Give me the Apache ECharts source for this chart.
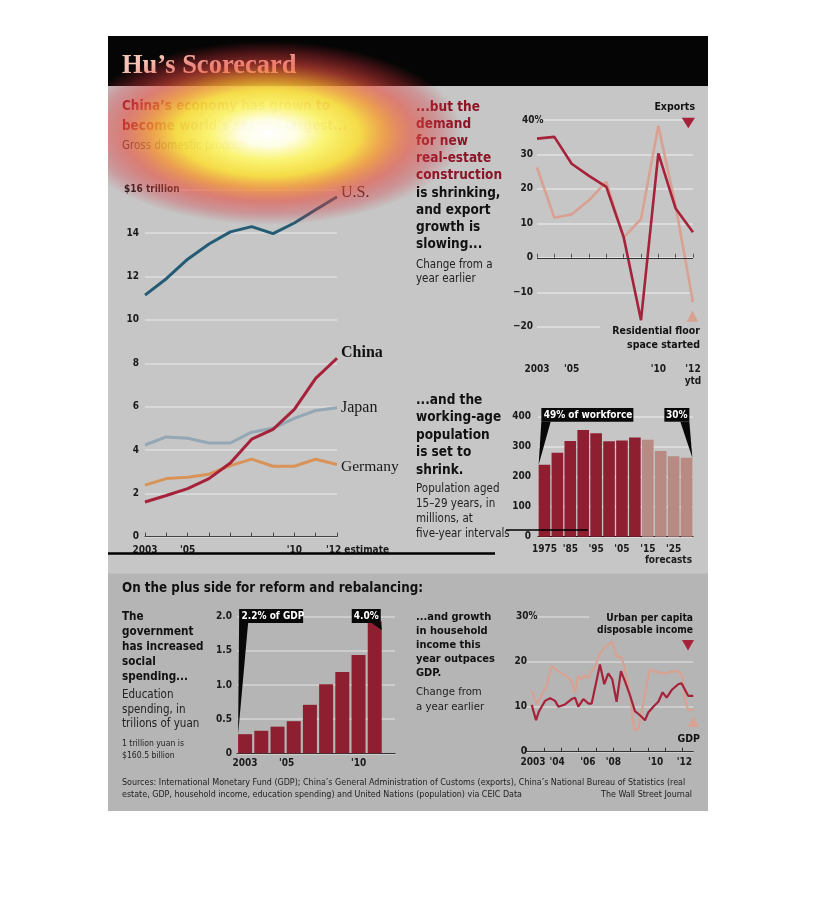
<!DOCTYPE html>
<html>
<head>
<meta charset="utf-8">
<script src="https://cdn.jsdelivr.net/npm/echarts@6.0.0/dist/echarts.min.js"></script>
<style>
html,body{margin:0;padding:0;background:#ffffff;}
#chart{width:816px;height:906px;}
</style>
</head>
<body>
<div id="chart"></div>
<script>
// ---------------- DATA ----------------
const gdpYears = ['2003','2004','2005','2006','2007','2008','2009','2010','2011','2012'];
const gdpUS      = [11.14, 11.9, 12.8, 13.5, 14.06, 14.3, 13.98, 14.47, 15.08, 15.68];
const gdpChina   = [1.6, 1.9, 2.22, 2.68, 3.4, 4.5, 4.95, 5.87, 7.3, 8.23];
const gdpJapan   = [4.23, 4.6, 4.54, 4.32, 4.32, 4.82, 5.0, 5.46, 5.82, 5.95];
const gdpGermany = [2.38, 2.68, 2.74, 2.88, 3.28, 3.58, 3.25, 3.25, 3.57, 3.33];
const gdpTickLabels = {'2003':'2003','2005':"'05",'2010':"'10",'2012':"'12 estimate"};

const tradeYears = ['2003','2004','2005','2006','2007','2008','2009','2010','2011','2012'];
const exportsGrowth    = [34.6, 35.1, 27.3, 23.8, 20.6, 6.0, -18.1, 30.3, 14.3, 7.4];
const floorSpaceGrowth = [26.2, 11.6, 12.6, 16.7, 22.1, 5.9, 11.2, 38.3, 15.0, -12.9];
const tradeTickLabels = {'2003':'2003','2005':"'05",'2010':"'10",'2012':"'12\nytd"};

const popYears  = ['1975','1980','1985','1990','1995','2000','2005','2010','2015','2020','2025','2030'];
const popValues = [240, 280, 319, 356, 345, 318, 321, 331, 323, 286, 268, 263];
const popForecastFrom = '2015';
const popTickLabels = {'1975':'1975','1985':"'85",'1995':"'95",'2005':"'05",'2015':"'15",'2025':"'25"};

const eduYears  = [2003, 2004, 2005, 2006, 2007, 2008, 2009, 2010, 2011];
const eduValues = [0.28, 0.33, 0.39, 0.47, 0.71, 1.01, 1.19, 1.44, 1.93];
const eduTickLabels = {2003:'2003', 2005:"'05", 2010:"'10"};

const incomeGrowth = [
  [2003.29,10.4],[2003.54,7.0],[2003.71,9.0],[2004.06,11.3],[2004.35,11.9],[2004.64,11.3],
  [2004.83,10.0],[2005.21,10.5],[2005.60,11.7],[2005.79,12.0],[2005.98,10.0],[2006.27,11.7],
  [2006.56,10.7],[2006.75,10.7],[2006.98,14.8],[2007.23,19.4],[2007.48,15.0],[2007.71,17.4],
  [2007.94,16.1],[2008.19,11.1],[2008.44,17.9],[2008.67,15.7],[2008.96,12.6],[2009.25,9.0],
  [2009.54,8.1],[2009.83,7.0],[2010.02,8.7],[2010.31,10.0],[2010.60,11.1],[2010.85,13.2],
  [2011.08,12.0],[2011.37,13.7],[2011.75,15.0],[2011.94,15.2],[2012.33,12.4],[2012.62,12.4]
];
const gdpGrowth = [
  [2003.29,13.5],[2003.58,10.5],[2003.87,12.6],[2004.16,14.8],[2004.44,19.1],[2004.73,18.1],
  [2005.02,17.4],[2005.31,16.7],[2005.60,15.6],[2005.79,13.0],[2005.98,16.9],[2006.17,16.1],
  [2006.37,17.0],[2006.56,16.3],[2006.75,17.8],[2006.94,18.9],[2007.14,21.1],[2007.52,23.3],
  [2007.94,24.4],[2008.19,21.3],[2008.48,20.9],[2008.67,18.5],[2008.96,12.6],[2009.21,4.8],
  [2009.44,5.0],[2009.64,8.9],[2009.92,14.8],[2010.12,18.4],[2010.40,17.8],[2010.98,17.4],
  [2011.37,17.8],[2011.75,17.9],[2011.98,17.0],[2012.14,11.5],[2012.33,9.3],[2012.62,9.3]
];
const incomeTickLabels = {2003:'2003', 2004:"'04", 2006:"'06", 2008:"'08", 2010:"'10", 2012:"'12"};

// ---------------- STYLE ----------------
const SANS = "'Liberation Sans Narrow','DejaVu Sans Condensed',Lato,'Liberation Sans',sans-serif";
const SERIF = "'Liberation Serif','DejaVu Serif',serif";
const RED = '#a6223a', SALMON = '#d9a192', BAR = '#8e1f30', BAR_FC = '#b98a84';
const TOP_BG = '#c6c6c6', BOT_BG = '#b5b5b5';
const TICK = {fontFamily: SANS, fontSize: 10, fontWeight: 'bold', color: '#1a1a1a'};
// horizontal nudges (px) of hand-placed tick labels in the original
const incomeLabelNudge = {2003: 6.3, 2004: 13, 2006: 9.3, 2008: 0, 2010: 7.8, 2012: 1.7};
const eduLabelNudge = {2003: 0, 2005: 9, 2010: 0};

const chart = echarts.init(document.getElementById('chart'), null, {renderer: 'canvas', width: 816, height: 906});

// ---------------- GRAPHICS (text / panels) ----------------
const els = [];
function text(x, y, str, font, fill, style) {
  els.push({type: 'text', x: x, y: y, z: 100, silent: true,
    style: Object.assign({text: str, font: font, fill: fill, align: 'left', verticalAlign: 'middle'}, style || {})});
}
function poly(points, fill) {
  els.push({type: 'polygon', z: 100, silent: true, shape: {points: points}, style: {fill: fill}});
}
els.push({type: 'rect', z: -100, silent: true, shape: {x: 108, y: 36, width: 600, height: 538}, style: {fill: TOP_BG}});
els.push({type: 'rect', z: -100, silent: true, shape: {x: 108, y: 573.5, width: 600, height: 237.5}, style: {fill: BOT_BG}});
els.push({type: 'rect', z: -99, silent: true, shape: {x: 108, y: 36, width: 600, height: 50}, style: {fill: '#050505'}});

text(122, 66, 'Hu\u2019s Scorecard', 'bold 26.5px ' + SERIF, '#f6c4b4');
text(122, 97, 'China\u2019s economy has grown to\nbecome world\u2019s second largest...', 'bold 13.4px ' + SANS, '#8b1426',
  {verticalAlign: 'top', lineHeight: 19.5});
text(122, 146, 'Gross domestic product', '11.5px ' + SANS, '#2a2a2a');

text(416, 98.7, '{r|...but the}\n{r|demand}\n{r|for new}\n{r|real-estate}\n{r|construction}\n{k|is shrinking,}\n{k|and export}\n{k|growth is}\n{k|slowing...}',
  'bold 13.5px ' + SANS, '#111', {verticalAlign: 'top', rich: {
    r: {fill: '#8b1426', font: 'bold 13.5px ' + SANS, lineHeight: 17.15},
    k: {fill: '#111111', font: 'bold 13.5px ' + SANS, lineHeight: 17.15}}});
text(416, 257.5, 'Change from a\nyear earlier', '11.5px ' + SANS, '#222', {verticalAlign: 'top', lineHeight: 14.5});

text(695, 107.7, 'Exports', 'bold 10.5px ' + SANS, '#111', {align: 'right'});
poly([[681.7, 117.7], [695, 117.7], [688.3, 128.3]], RED);
text(700, 325, 'Residential floor\nspace started', 'bold 10.5px ' + SANS, '#111',
  {align: 'right', verticalAlign: 'top', lineHeight: 13.3, backgroundColor: TOP_BG, padding: [0, 0, 0, 12]});
poly([[686.7, 321.7], [698.3, 321.7], [692.5, 310.5]], SALMON);

text(416, 391.25, '...and the\nworking-age\npopulation\nis set to\nshrink.', 'bold 13.5px ' + SANS, '#111',
  {verticalAlign: 'top', lineHeight: 17.5});
text(416, 481.5, 'Population aged\n15\u201329 years, in\nmillions, at\nfive-year intervals', '11.5px ' + SANS, '#222',
  {verticalAlign: 'top', lineHeight: 15});
text(692, 560.7, 'forecasts', 'bold 10px ' + SANS, '#1a1a1a', {align: 'right'});

text(122, 589, 'On the plus side for reform and rebalancing:', 'bold 13.3px ' + SANS, '#111');
text(122, 609.2, 'The\ngovernment\nhas increased\nsocial\nspending...', 'bold 11.6px ' + SANS, '#111',
  {verticalAlign: 'top', lineHeight: 15});
text(122, 687.6, 'Education\nspending, in\ntrilions of yuan', '11.5px ' + SANS, '#222',
  {verticalAlign: 'top', lineHeight: 14.7});
text(122, 738, '1 trillion yuan is\n$160.5 billion', '8.6px ' + SANS, '#222',
  {verticalAlign: 'top', lineHeight: 12});

text(416, 609.7, '...and growth\nin household\nincome this\nyear outpaces\nGDP.', 'bold 11px ' + SANS, '#111',
  {verticalAlign: 'top', lineHeight: 14});
text(416, 684.2, 'Change from\na year earlier', '11.3px ' + SANS, '#222', {verticalAlign: 'top', lineHeight: 15});
text(693, 612, 'Urban per capita\ndisposable income', 'bold 10.2px ' + SANS, '#111',
  {align: 'right', verticalAlign: 'top', lineHeight: 12.5, backgroundColor: BOT_BG, padding: [0, 0, 0, 8]});
poly([[682, 640], [694, 640], [688, 650.5]], RED);
text(700, 739, 'GDP', 'bold 10.5px ' + SANS, '#111', {align: 'right'});
poly([[687.7, 726.7], [699, 726.7], [693.3, 716.7]], SALMON);

text(122, 776.5, 'Sources: International Monetary Fund (GDP); China\u2019s General Administration of Customs (exports), China\u2019s National Bureau of Statistics (real\nestate, GDP, household income, education spending) and United Nations (population) via CEIC Data',
  '8.9px ' + SANS, '#222', {verticalAlign: 'top', lineHeight: 12.3});
text(692, 795, 'The Wall Street Journal', '8.9px ' + SANS, '#222', {align: 'right'});

// glow overlay + white masks outside the panel
els.push({type: 'circle', z: 150, silent: true, x: 268, y: 133, scaleX: 1.95, scaleY: 0.92,
  shape: {cx: 0, cy: 0, r: 100},
  style: {fill: {type: 'radial', x: 0.5, y: 0.5, r: 0.5, colorStops: [
    {offset: 0, color: 'rgba(255,255,255,1)'},
    {offset: 0.14, color: 'rgba(255,255,232,0.98)'},
    {offset: 0.3, color: 'rgba(253,246,110,0.95)'},
    {offset: 0.47, color: 'rgba(250,222,58,0.9)'},
    {offset: 0.6, color: 'rgba(245,150,50,0.8)'},
    {offset: 0.74, color: 'rgba(232,78,62,0.6)'},
    {offset: 0.88, color: 'rgba(215,50,58,0.32)'},
    {offset: 1, color: 'rgba(200,40,50,0)'}]}}});
els.push({type: 'rect', z: 160, silent: true, shape: {x: 0, y: 0, width: 816, height: 36}, style: {fill: '#ffffff'}});
els.push({type: 'rect', z: 160, silent: true, shape: {x: 0, y: 0, width: 108, height: 906}, style: {fill: '#ffffff'}});
els.push({type: 'rect', z: 160, silent: true, shape: {x: 708, y: 0, width: 108, height: 906}, style: {fill: '#ffffff'}});
// stray marker strokes present in the reference
els.push({type: 'line', z: 170, silent: true, shape: {x1: 108, y1: 553.5, x2: 495, y2: 553.5}, style: {stroke: '#000', lineWidth: 2.5}});
els.push({type: 'line', z: 170, silent: true, shape: {x1: 506, y1: 530, x2: 588, y2: 530}, style: {stroke: '#000', lineWidth: 1.5}});
els.forEach(function (e, i) { e.id = 'g' + i; });

// ---------------- CHART OPTION ----------------
function gridLine(c) { return {show: true, lineStyle: {color: c, width: 1.5}}; }
function nudgeRich(map) {
  const r = {};
  Object.keys(map).forEach(function (k) {
    r['n' + k] = Object.assign({}, TICK, {padding: [0, 0, 0, 2 * map[k]]});
  });
  return r;
}
function numRich(w, pctPad) {
  return {n: Object.assign({}, TICK, {width: w, align: 'right'}),
          q: Object.assign({}, TICK, {padding: [0, 0, 0, pctPad]}),
          t: Object.assign({}, TICK)};
}

const option = {
  backgroundColor: '#ffffff',
  animation: false,
  grid: [
    {left: 145, top: 189.8, width: 192, height: 346.9},
    {left: 537, top: 120, width: 156, height: 206.7},
    {left: 538, top: 416.7, width: 155, height: 120},
    {left: 237, top: 616.7, width: 158, height: 136.6},
    {left: 526.7, top: 616.7, width: 166.6, height: 135}
  ],
  xAxis: [
    {gridIndex: 0, type: 'category', data: gdpYears, boundaryGap: false,
      axisLine: {lineStyle: {color: '#444', width: 1}},
      axisTick: {inside: true, length: 4, lineStyle: {color: '#444'}},
      axisLabel: Object.assign({}, TICK, {interval: 0, margin: 9,
        formatter: function (v) {
          const s = gdpTickLabels[v] || '';
          return v === gdpYears[gdpYears.length - 1] ? '{e|' + s + '}' : s;
        },
        rich: {e: Object.assign({}, TICK, {padding: [0, 0, 0, 41]})}})},
    {gridIndex: 1, type: 'category', data: tradeYears, boundaryGap: false, offset: 31,
      axisLine: {lineStyle: {color: '#e6e6e6', width: 1.5}},
      axisTick: {inside: true, length: 4, lineStyle: {color: '#555'}},
      axisLabel: Object.assign({}, TICK, {interval: 0, margin: 6, lineHeight: 12,
        formatter: function (v) { return tradeTickLabels[v] || ''; }})},
    {gridIndex: 2, type: 'category', data: popYears,
      axisLine: {lineStyle: {color: '#111', width: 1}},
      axisTick: {show: false},
      axisLabel: Object.assign({}, TICK, {interval: 0, margin: 8,
        formatter: function (v) { return popTickLabels[v] || ''; }})},
    {gridIndex: 3, type: 'value', min: 2002.5, max: 2012.25, interval: 0.5,
      splitLine: {show: false},
      axisLine: {show: true, onZero: false, lineStyle: {color: '#333', width: 1}},
      axisTick: {show: false},
      axisLabel: Object.assign({}, TICK, {margin: 5, showMinLabel: false, showMaxLabel: false,
        formatter: function (v) { return eduTickLabels[v] ? '{n' + v + '|' + eduTickLabels[v] + '}' : ''; },
        rich: nudgeRich(eduLabelNudge)})},
    {gridIndex: 4, type: 'value', min: 2003, max: 2012.62, interval: 1,
      splitLine: {show: false},
      axisLine: {show: true, onZero: false, lineStyle: {color: '#333', width: 1}},
      axisTick: {show: true, inside: true, length: 4, lineStyle: {color: '#333'}},
      axisLabel: Object.assign({}, TICK, {margin: 6, showMinLabel: true, showMaxLabel: false,
        formatter: function (v) { return incomeTickLabels[v] ? '{n' + v + '|' + incomeTickLabels[v] + '}' : ''; },
        rich: nudgeRich(incomeLabelNudge)})}
  ],
  yAxis: [
    {gridIndex: 0, type: 'value', min: 0, max: 16, interval: 2,
      splitLine: gridLine('#dedede'), axisLine: {show: false}, axisTick: {show: false},
      axisLabel: Object.assign({}, TICK, {align: 'left', margin: 21,
        formatter: function (v) { return v === 16 ? '{t|$16 trillion}' : '{n|' + v + '}'; },
        rich: numRich(15, 0)})},
    {gridIndex: 1, type: 'value', min: -20, max: 40, interval: 10,
      splitLine: gridLine('#e2e2e2'), axisLine: {show: false}, axisTick: {show: false},
      axisLabel: Object.assign({}, TICK, {align: 'left', margin: 22,
        formatter: function (v) { return v === 40 ? '{q|40%}' : '{n|' + (v < 0 ? '\u2212' + (-v) : v) + '}'; },
        rich: numRich(18, 7)})},
    {gridIndex: 2, type: 'value', min: 0, max: 400, interval: 100,
      splitLine: gridLine('#e2e2e2'), axisLine: {show: false}, axisTick: {show: false},
      axisLabel: Object.assign({}, TICK, {margin: 7})},
    {gridIndex: 3, type: 'value', min: 0, max: 2, interval: 0.5,
      splitLine: gridLine('#d6d6d6'), axisLine: {show: false}, axisTick: {show: false},
      axisLabel: Object.assign({}, TICK, {margin: 5,
        formatter: function (v) { return v === 0 ? '0' : v.toFixed(1); }})},
    {gridIndex: 4, type: 'value', min: 0, max: 30, interval: 10,
      splitLine: gridLine('#d6d6d6'), axisLine: {show: false}, axisTick: {show: false},
      axisLabel: Object.assign({}, TICK, {align: 'left', margin: 13.7,
        formatter: function (v) { return v === 30 ? '{q|30%}' : '{n|' + v + '}'; },
        rich: numRich(14, 3)})}
  ],
  series: [
    {name: 'U.S.', type: 'line', xAxisIndex: 0, yAxisIndex: 0, data: gdpUS, symbol: 'none', z: 3,
      lineStyle: {color: '#245c75', width: 3},
      endLabel: {show: true, formatter: 'U.S.', distance: 4, offset: [0, -4], fontFamily: SERIF, fontSize: 16, color: '#1a1a1a'}},
    {name: 'Germany', type: 'line', xAxisIndex: 0, yAxisIndex: 0, data: gdpGermany, symbol: 'none', z: 3,
      lineStyle: {color: '#d99358', width: 3},
      endLabel: {show: true, formatter: 'Germany', distance: 4, offset: [0, 2], fontFamily: SERIF, fontSize: 15.5, color: '#1a1a1a'}},
    {name: 'Japan', type: 'line', xAxisIndex: 0, yAxisIndex: 0, data: gdpJapan, symbol: 'none', z: 4,
      lineStyle: {color: '#94a7b5', width: 3},
      endLabel: {show: true, formatter: 'Japan', distance: 4, offset: [0, 0], fontFamily: SERIF, fontSize: 16, color: '#1a1a1a'}},
    {name: 'China', type: 'line', xAxisIndex: 0, yAxisIndex: 0, data: gdpChina, symbol: 'none', z: 5,
      lineStyle: {color: RED, width: 3},
      endLabel: {show: true, formatter: 'China', distance: 4, offset: [0, -5], fontFamily: SERIF, fontSize: 16, fontWeight: 'bold', color: '#111'}},

    {name: 'Residential floor space started', type: 'line', xAxisIndex: 1, yAxisIndex: 1, data: floorSpaceGrowth,
      symbol: 'none', z: 3, lineStyle: {color: SALMON, width: 2.6},
      markLine: {silent: true, symbol: 'none', label: {show: false}, lineStyle: {color: '#333', width: 1, type: 'solid'},
        data: [{yAxis: 0}]}},
    {name: 'Exports', type: 'line', xAxisIndex: 1, yAxisIndex: 1, data: exportsGrowth,
      symbol: 'none', z: 4, lineStyle: {color: RED, width: 2.6}},

    {name: 'Population aged 15-29', type: 'bar', xAxisIndex: 2, yAxisIndex: 2, barCategoryGap: '10%',
      data: popValues.map(function (v, i) {
        return {value: v, itemStyle: {color: popYears[i] >= popForecastFrom ? BAR_FC : BAR}};
      })},

    {name: 'Education spending', type: 'bar', xAxisIndex: 3, yAxisIndex: 3, barWidth: 14,
      itemStyle: {color: BAR},
      data: eduYears.map(function (y, i) { return [y, eduValues[i]]; })},

    {name: 'GDP', type: 'line', xAxisIndex: 4, yAxisIndex: 4, data: gdpGrowth,
      symbol: 'none', z: 3, lineStyle: {color: SALMON, width: 2.2}},
    {name: 'Urban per capita disposable income', type: 'line', xAxisIndex: 4, yAxisIndex: 4, data: incomeGrowth,
      symbol: 'none', z: 4, lineStyle: {color: RED, width: 2.2}}
  ],
  graphic: {elements: els}
};

chart.setOption(option);

// ---------------- CALLOUTS (anchored via the chart's own scales) ----------------
const callouts = [];
const CALL_FONT = 'bold 10px ' + SANS;
const popBarW = 155 / popYears.length * 0.9;
const p0 = chart.convertToPixel({xAxisIndex: 2, yAxisIndex: 2}, [0, popValues[0]]);
const pL = chart.convertToPixel({xAxisIndex: 2, yAxisIndex: 2}, [popYears.length - 1, popValues[popValues.length - 1]]);
const pTop = chart.convertToPixel({yAxisIndex: 2}, 400);
const p0Left = p0[0] - popBarW / 2, pLRight = pL[0] + popBarW / 2;
const boxT = pTop - 8.7, boxH = 13.7;
callouts.push({type: 'rect', shape: {x: p0Left + 2.7, y: boxT, width: 92, height: boxH}, style: {fill: '#080808'}});
callouts.push({type: 'polygon', shape: {points: [[p0Left + 2.7, boxT + boxH], [p0Left + 12, boxT + boxH], [p0Left, p0[1]]]}, style: {fill: '#080808'}});
callouts.push({type: 'text', x: p0Left + 5, y: boxT + boxH / 2 + 0.5, style: {text: '49% of workforce', font: CALL_FONT, fill: '#fff', align: 'left', verticalAlign: 'middle'}});
callouts.push({type: 'rect', shape: {x: pLRight - 28, y: boxT, width: 25, height: boxH}, style: {fill: '#080808'}});
callouts.push({type: 'polygon', shape: {points: [[pLRight - 12, boxT + boxH], [pLRight - 3, boxT + boxH], [pLRight, pL[1]]]}, style: {fill: '#080808'}});
callouts.push({type: 'text', x: pLRight - 15.5, y: boxT + boxH / 2 + 0.5, style: {text: '30%', font: CALL_FONT, fill: '#fff', align: 'center', verticalAlign: 'middle'}});

const e0 = chart.convertToPixel({xAxisIndex: 3, yAxisIndex: 3}, [eduYears[0], eduValues[0]]);
const eL = chart.convertToPixel({xAxisIndex: 3, yAxisIndex: 3}, [eduYears[eduYears.length - 1], eduValues[eduValues.length - 1]]);
const eTop = chart.convertToPixel({yAxisIndex: 3}, 2);
const e0Left = e0[0] - 7, eLRight = eL[0] + 7;
const eBoxT = eTop - 7.7, eBoxH = 14;
callouts.push({type: 'rect', shape: {x: e0Left + 1, y: eBoxT, width: 64, height: eBoxH}, style: {fill: '#080808'}});
callouts.push({type: 'polygon', shape: {points: [[e0Left + 1, eBoxT + eBoxH], [e0Left + 10, eBoxT + eBoxH], [e0Left, e0[1]]]}, style: {fill: '#080808'}});
callouts.push({type: 'text', x: e0Left + 3.5, y: eBoxT + eBoxH / 2 + 0.5, style: {text: '2.2% of GDP', font: CALL_FONT, fill: '#fff', align: 'left', verticalAlign: 'middle'}});
callouts.push({type: 'rect', shape: {x: eLRight - 30, y: eBoxT, width: 29, height: eBoxH}, style: {fill: '#080808'}});
callouts.push({type: 'polygon', shape: {points: [[eLRight - 10, eBoxT + eBoxH], [eLRight - 1, eBoxT + eBoxH], [eLRight, eBoxT + eBoxH + 7]]}, style: {fill: '#080808'}});
callouts.push({type: 'text', x: eLRight - 15.5, y: eBoxT + eBoxH / 2 + 0.5, style: {text: '4.0%', font: CALL_FONT, fill: '#fff', align: 'center', verticalAlign: 'middle'}});

callouts.forEach(function (e, i) { e.id = 'c' + i; e.z = 120; e.silent = true; });
chart.setOption({graphic: {elements: callouts}});
</script>
</body>
</html>
